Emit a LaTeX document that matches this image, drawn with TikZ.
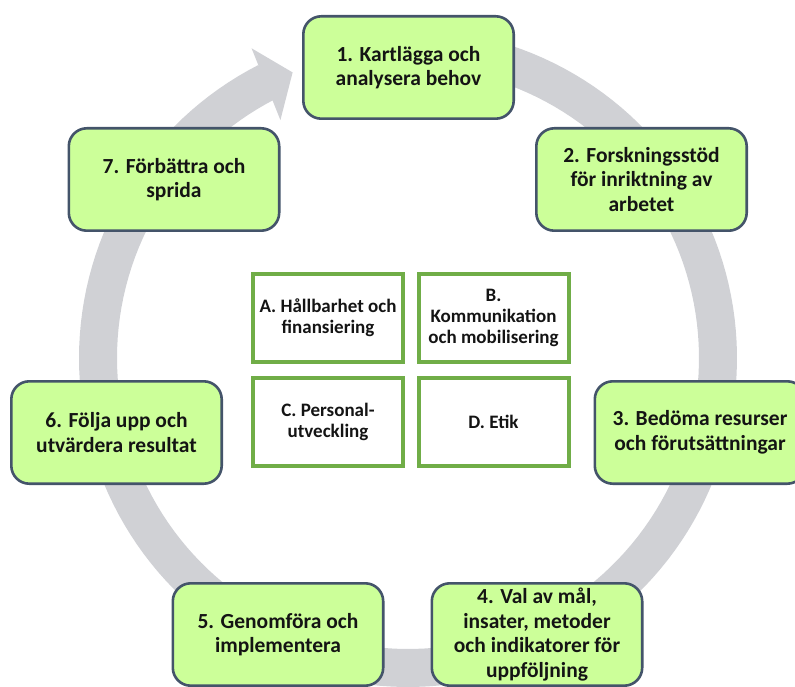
\documentclass[tikz,border=0pt]{standalone}
\usepackage{fontspec}
\setmainfont{Carlito}
\definecolor{ringgray}{RGB}{208,209,213}
\definecolor{boxfill}{RGB}{204,255,153}
\definecolor{boxedge}{RGB}{68,84,106}
\definecolor{centergreen}{RGB}{112,173,71}
\definecolor{textdark}{RGB}{20,20,20}
\begin{document}
\begin{tikzpicture}[x=1pt,y=-1pt,
  stepbox/.style={draw=boxedge, line width=2.6pt, fill=boxfill, rounded corners=18pt,
    minimum width=210.4pt, minimum height=102.4pt, align=center, inner sep=0pt,
    text=textdark, font=\fontsize{21.5}{24.5}\selectfont\bfseries},
  topicbox/.style={draw=centergreen, line width=4pt, fill=white,
    minimum width=150pt, minimum height=88pt, align=center, inner sep=0pt,
    text=textdark, font=\fontsize{19}{20.7}\selectfont\bfseries},
  ring/.style={draw=ringgray, line width=38pt}]
\clip (0,0) rectangle (795,687);
% cycle ring with arrowhead
\draw[ring] plot[domain=-243:80, samples=160] ({408+310*cos(\x)},{358-310*sin(\x)});
\fill[ringgray] ({408+347*cos(116.8)},{358-347*sin(116.8)})
  -- ({408+308*cos(112)},{358-308*sin(112)})
  -- ({408+270*cos(118.2)},{358-270*sin(118.2)}) -- cycle;
% step boxes
\node[stepbox] (s1) at (408.5,67.5) {1. Kartlägga och\\analysera behov};
\node[stepbox] (s2) at (641.5,179.5) {2. Forskningsstöd\\för inriktning av\\arbetet};
\node[stepbox] (s3) at (700,432.5) {3. Bedöma resurser\\och förutsättningar};
\node[stepbox] (s4) at (537,634.5) {4. Val av mål,\\insater, metoder\\och indikatorer för\\uppföljning};
\node[stepbox] (s5) at (278,634.5) {5. Genomföra och\\implementera};
\node[stepbox] (s6) at (116.5,432.5) {6. Följa upp och\\utvärdera resultat};
\node[stepbox] (s7) at (174,179.5) {7. Förbättra och\\sprida};
% central topic boxes
\node[topicbox] (ta) at (328,318) {A. Hållbarhet och\\finansiering};
\node[topicbox] (tb) at (493.5,318) {B.\\Kommunikation\\och mobilisering};
\node[topicbox] (tc) at (328,422) {C. Personal-\\utveckling};
\node[topicbox] (td) at (493.5,422) {D. Etik};
\end{tikzpicture}
\end{document}
